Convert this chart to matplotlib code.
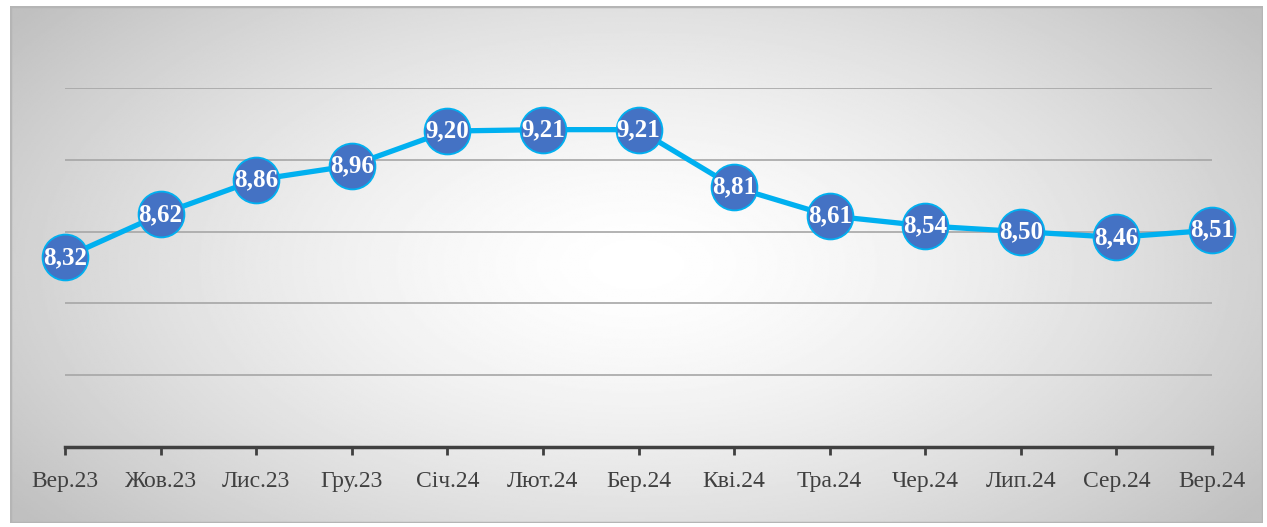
import matplotlib.pyplot as plt
import numpy as np
from matplotlib.patches import Rectangle

months = ['Вер.23', 'Жов.23', 'Лис.23', 'Гру.23', 'Січ.24', 'Лют.24', 'Бер.24',
          'Кві.24', 'Тра.24', 'Чер.24', 'Лип.24', 'Сер.24', 'Вер.24']
values = [8.32, 8.62, 8.86, 8.96, 9.20, 9.21, 9.21, 8.81, 8.61, 8.54, 8.50, 8.46, 8.51]

plt.rcParams['font.family'] = ['Liberation Serif', 'DejaVu Serif']

fig = plt.figure(figsize=(12.67, 5.27), dpi=100)
fig.patch.set_facecolor('white')

# фон з радіальним градієнтом
bg = fig.add_axes([10 / 1267, 1 - 523 / 527, 1253 / 1267, 517 / 527])
bg.set_axis_off()
yy, xx = np.mgrid[0:1:300j, 0:1:700j]
r = np.sqrt(((xx - 0.5) / 0.62) ** 2 + ((yy - 0.5) / 0.8) ** 2)
shade = 1.0 - 0.25 * np.clip(r, 0, 1) ** 1.5
bg.imshow(shade, cmap='gray', vmin=0, vmax=1, aspect='auto', extent=[0, 1, 0, 1])
bg.add_patch(Rectangle((0, 0), 1, 1, transform=bg.transAxes, fill=False,
                       edgecolor='#b5b5b5', linewidth=2.5))
bg.set_xlim(0, 1)
bg.set_ylim(0, 1)

ax = fig.add_axes([65 / 1267, 1 - 447 / 527, 1147 / 1267, 359 / 527])
ax.patch.set_alpha(0)
x = np.arange(len(months))
ax.plot(x, values, color='#00B0F0', linewidth=3.8, marker='o', markersize=33,
        markerfacecolor='#4472C4', markeredgecolor='#00B0F0', markeredgewidth=1.3,
        zorder=3, clip_on=False)
for a, b in zip(x, values):
    ax.text(a, b, f'{b:.2f}'.replace('.', ','), ha='center', va='center',
            color='white', fontsize=18, fontweight='bold', zorder=4)

ax.set_xlim(0, len(months) - 1)
ax.set_ylim(7.0, 9.5)
ax.set_yticks([7.5, 8.0, 8.5, 9.0, 9.5])
ax.yaxis.grid(True, color='#a6a6a6', linewidth=1.2)
ax.tick_params(axis='y', left=False, labelleft=False)
ax.set_xticks(x)
ax.set_xticklabels(months, fontsize=17, color='#404040')
ax.tick_params(axis='x', length=6, width=2, color='#404040', pad=11)
for s in ['top', 'right', 'left']:
    ax.spines[s].set_visible(False)
ax.spines['bottom'].set_color('#404040')
ax.spines['bottom'].set_linewidth(2.5)

plt.savefig('out.png', dpi=100)
